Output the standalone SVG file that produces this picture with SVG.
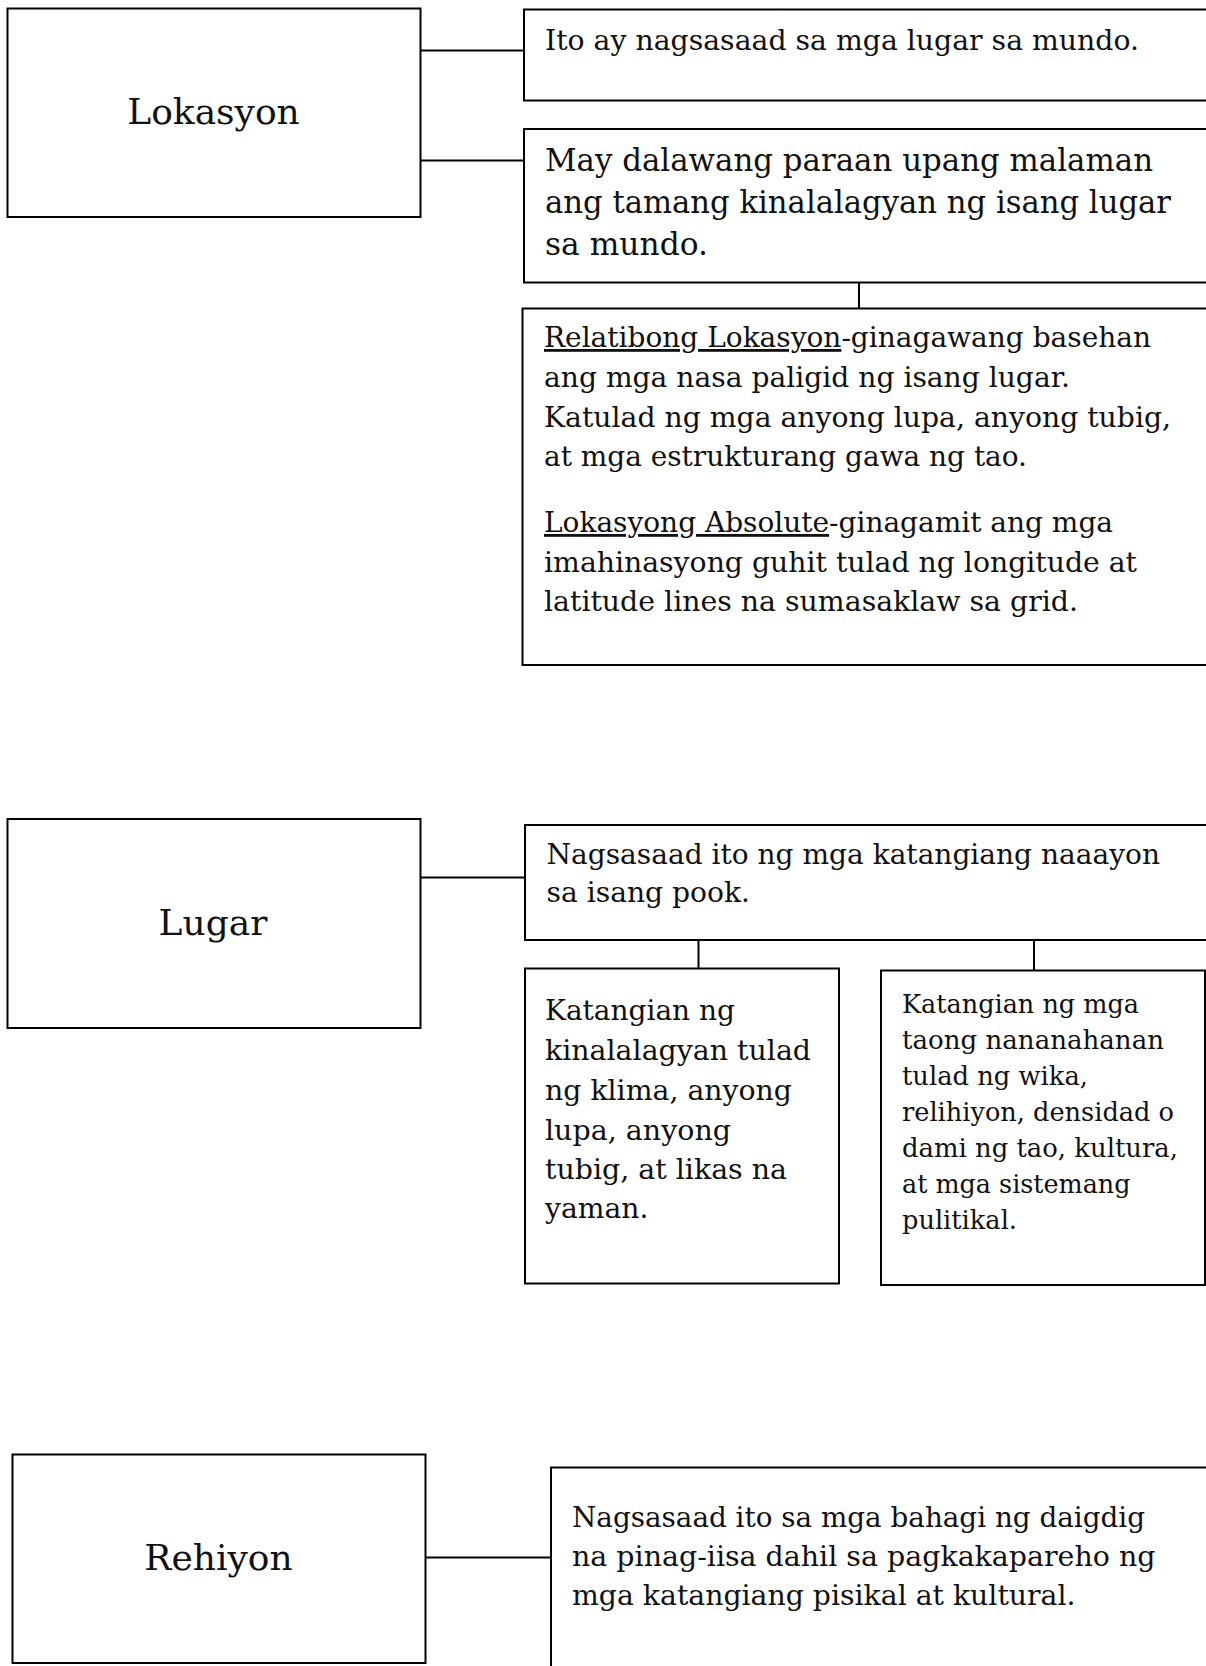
<svg xmlns="http://www.w3.org/2000/svg" width="1206" height="1666" viewBox="0 0 1206 1666">
<style>
.box{fill:#fff;stroke:#000;stroke-width:2}
.con{stroke:#000;stroke-width:2;fill:none}
text{font-family:"DejaVu Serif","Liberation Serif",serif;fill:#111}
.lbl{font-size:36px;text-anchor:middle}
.t28{font-size:28px}
.t31{font-size:31px}
.t25{font-size:25.5px}
.u{text-decoration:underline}
</style>
<rect width="1206" height="1666" fill="#fff"/>
<g id="connectors">
<line class="con" x1="420.5" y1="50.5" x2="524" y2="50.5"/>
<line class="con" x1="420.5" y1="160.5" x2="524" y2="160.5"/>
<line class="con" x1="859" y1="282.5" x2="859" y2="308.5"/>
<line class="con" x1="420.5" y1="877.5" x2="525" y2="877.5"/>
<line class="con" x1="698.5" y1="940" x2="698.5" y2="968.5"/>
<line class="con" x1="1034" y1="940" x2="1034" y2="970.5"/>
<line class="con" x1="425.5" y1="1557.5" x2="551" y2="1557.5"/>
</g>
<g id="lokasyon">
<rect class="box" x="7.5" y="8.5" width="413" height="208.5"/>
<text class="lbl" x="213.5" y="124">Lokasyon</text>
</g>
<g id="lokasyon-def">
<rect class="box" x="524" y="9.5" width="700" height="91"/>
<text class="t28" x="545" y="49.5" textLength="594" lengthAdjust="spacingAndGlyphs">Ito ay nagsasaad sa mga lugar sa mundo.</text>
</g>
<g id="lokasyon-paraan">
<rect class="box" x="524" y="129" width="700" height="153.5"/>
<text class="t31" x="545" y="170.5" textLength="608" lengthAdjust="spacingAndGlyphs">May dalawang paraan upang malaman</text>
<text class="t31" x="545" y="212.5" textLength="626" lengthAdjust="spacingAndGlyphs">ang tamang kinalalagyan ng isang lugar</text>
<text class="t31" x="545" y="255" textLength="163" lengthAdjust="spacingAndGlyphs">sa mundo.</text>
</g>
<g id="lokasyon-uri">
<rect class="box" x="522.5" y="308.5" width="700" height="356.5"/>
<text class="t28" x="544" y="347" textLength="607" lengthAdjust="spacingAndGlyphs"><tspan class="u">Relatibong Lokasyon</tspan>-ginagawang basehan</text>
<text class="t28" x="544" y="387" textLength="526" lengthAdjust="spacingAndGlyphs">ang mga nasa paligid ng isang lugar.</text>
<text class="t28" x="544" y="427" textLength="627" lengthAdjust="spacingAndGlyphs">Katulad ng mga anyong lupa, anyong tubig,</text>
<text class="t28" x="544" y="466" textLength="483" lengthAdjust="spacingAndGlyphs">at mga estrukturang gawa ng tao.</text>
<text class="t28" x="544" y="532" textLength="569" lengthAdjust="spacingAndGlyphs"><tspan class="u">Lokasyong Absolute</tspan>-ginagamit ang mga</text>
<text class="t28" x="544" y="572" textLength="593" lengthAdjust="spacingAndGlyphs">imahinasyong guhit tulad ng longitude at</text>
<text class="t28" x="544" y="611" textLength="534" lengthAdjust="spacingAndGlyphs">latitude lines na sumasaklaw sa grid.</text>
</g>
<g id="lugar">
<rect class="box" x="7.5" y="819" width="413" height="209"/>
<text class="lbl" x="213" y="935">Lugar</text>
</g>
<g id="lugar-def">
<rect class="box" x="525" y="825" width="700" height="115"/>
<text class="t28" x="546.5" y="863.5" textLength="613.5" lengthAdjust="spacingAndGlyphs">Nagsasaad ito ng mga katangiang naaayon</text>
<text class="t28" x="546.5" y="902" textLength="203.5" lengthAdjust="spacingAndGlyphs">sa isang pook.</text>
</g>
<g id="lugar-kinalalagyan">
<rect class="box" x="525" y="968.5" width="314" height="315"/>
<text class="t28" x="545" y="1020" textLength="190" lengthAdjust="spacingAndGlyphs">Katangian ng</text>
<text class="t28" x="545" y="1060" textLength="266" lengthAdjust="spacingAndGlyphs">kinalalagyan tulad</text>
<text class="t28" x="545" y="1100" textLength="247" lengthAdjust="spacingAndGlyphs">ng klima, anyong</text>
<text class="t28" x="545" y="1140" textLength="186" lengthAdjust="spacingAndGlyphs">lupa, anyong</text>
<text class="t28" x="545" y="1179" textLength="242" lengthAdjust="spacingAndGlyphs">tubig, at likas na</text>
<text class="t28" x="545" y="1218" textLength="103.5" lengthAdjust="spacingAndGlyphs">yaman.</text>
</g>
<g id="lugar-tao">
<rect class="box" x="881" y="970.5" width="324" height="314.5"/>
<text class="t25" x="902" y="1012.5" textLength="237" lengthAdjust="spacingAndGlyphs">Katangian ng mga</text>
<text class="t25" x="902" y="1048.5" textLength="262" lengthAdjust="spacingAndGlyphs">taong nananahanan</text>
<text class="t25" x="902" y="1084.5" textLength="186" lengthAdjust="spacingAndGlyphs">tulad ng wika,</text>
<text class="t25" x="902" y="1120.5" textLength="272" lengthAdjust="spacingAndGlyphs">relihiyon, densidad o</text>
<text class="t25" x="902" y="1156.5" textLength="276" lengthAdjust="spacingAndGlyphs">dami ng tao, kultura,</text>
<text class="t25" x="902" y="1192.5" textLength="228.5" lengthAdjust="spacingAndGlyphs">at mga sistemang</text>
<text class="t25" x="902" y="1228.5" textLength="115" lengthAdjust="spacingAndGlyphs">pulitikal.</text>
</g>
<g id="rehiyon">
<rect class="box" x="12.5" y="1454.5" width="413" height="208.5"/>
<text class="lbl" x="218.5" y="1569.5">Rehiyon</text>
</g>
<g id="rehiyon-def">
<rect class="box" x="551" y="1467.5" width="700" height="230"/>
<text class="t28" x="572" y="1527" textLength="573" lengthAdjust="spacingAndGlyphs">Nagsasaad ito sa mga bahagi ng daigdig</text>
<text class="t28" x="572" y="1566" textLength="583.5" lengthAdjust="spacingAndGlyphs">na pinag-iisa dahil sa pagkakapareho ng</text>
<text class="t28" x="572" y="1605" textLength="503.5" lengthAdjust="spacingAndGlyphs">mga katangiang pisikal at kultural.</text>
</g>
</svg>
